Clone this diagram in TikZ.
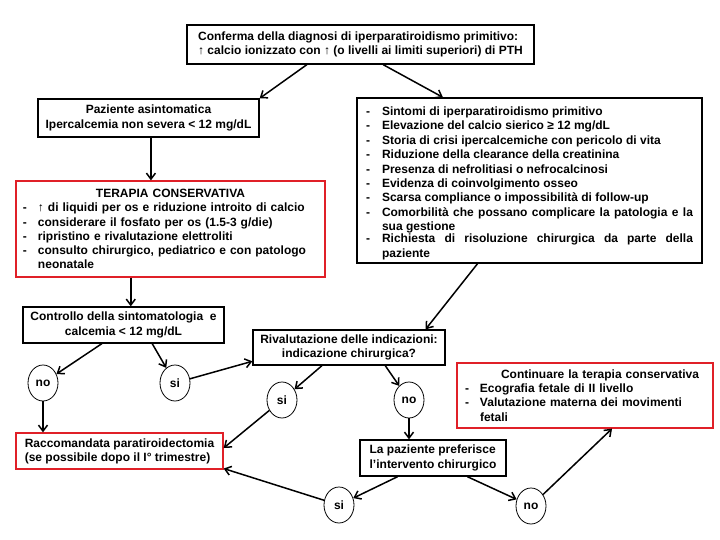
\documentclass[tikz,border=0pt]{standalone}
\usepackage{fontspec}
\setmainfont{Liberation Sans}
\usetikzlibrary{shapes.geometric,arrows.meta,calc}
\definecolor{boxred}{RGB}{224,32,40}
\hyphenpenalty=10000
\exhyphenpenalty=10000
\emergencystretch=20pt
% dash item with hanging text: #1 dash width, #2 text width, #3 text
\newcommand\litem[3]{\par\noindent\makebox[#1][l]{-}\parbox[t]{#2}{#3}\par}
\newcommand\ritem[3]{\litem{#1}{#2}{\raggedright #3}}
\begin{document}
\begin{tikzpicture}[x=1pt,y=-1pt,
  txt/.style={font=\bfseries\fontsize{12}{14.2}\selectfont},
  bx/.style={txt, draw, line width=1.3pt, inner ysep=0pt, inner xsep=4pt},
  rbx/.style={bx, draw=boxred},
  dec/.style={txt, draw, ellipse, line width=0.8pt, minimum width=30pt, minimum height=36pt, inner sep=0pt},
  arr/.style={line width=1.5pt, -{Straight Barb[length=6pt,width=9pt]}}]
\fill[white] (0,0) rectangle (720,540);
\useasboundingbox (0,0) rectangle (720,540);

% boxes
\node[bx, align=left, minimum width=347pt, minimum height=39pt] (top) at (360.5,44.5)
  {Conferma della diagnosi di iperparatiroidismo primitivo:\\{\mdseries ↑} calcio ionizzato con {\mdseries ↑} (o livelli ai limiti superiori) di PTH};
\node[bx, align=center, minimum width=221pt, minimum height=38pt] (pz) at (148.5,118)
  {Paziente asintomatica\\Ipercalcemia non severa < 12 mg/dL};
\node[rbx, align=left, text width=295pt, inner xsep=7pt, minimum height=96pt] (ter) at (170.5,229)
  {{\centering TERAPIA CONSERVATIVA\par}%
   \ritem{15pt}{280pt}{{\mdseries ↑} di liquidi per os e riduzione introito di calcio}%
   \ritem{15pt}{280pt}{considerare il fosfato per os (1.5-3 g/die)}%
   \ritem{15pt}{280pt}{ripristino e rivalutazione elettroliti}%
   \ritem{15pt}{280pt}{consulto chirurgico, pediatrico e con patologo neonatale}};
\node[bx, align=justify, text width=327pt, inner xsep=9pt, minimum height=165pt,
      font=\bfseries\fontsize{12}{14.4}\selectfont] (rb) at (529.5,180.5)
  {\litem{16pt}{311pt}{Sintomi di iperparatiroidismo primitivo}%
   \litem{16pt}{311pt}{Elevazione del calcio sierico ≥ 12 mg/dL}%
   \litem{16pt}{311pt}{Storia di crisi ipercalcemiche con pericolo di vita}%
   \litem{16pt}{311pt}{Riduzione della clearance della creatinina}%
   \litem{16pt}{311pt}{Presenza di nefrolitiasi o nefrocalcinosi}%
   \litem{16pt}{311pt}{Evidenza di coinvolgimento osseo}%
   \litem{16pt}{311pt}{Scarsa compliance o impossibilità di follow-up}%
   \litem{16pt}{311pt}{Comorbilità che possano complicare la patologia e la sua gestione}%
   \litem{16pt}{311pt}{Richiesta di risoluzione chirurgica da parte della paziente}};
\node[bx, align=center, minimum width=201pt, minimum height=36pt] (ctrl) at (123.5,325)
  {Controllo della sintomatologia \ e\\calcemia < 12 mg/dL};
\node[bx, align=center, minimum width=192pt, minimum height=35pt] (riv) at (349,347.5)
  {Rivalutazione delle indicazioni:\\indicazione chirurgica?};
\node[rbx, align=left, text width=240pt, inner xsep=8pt, minimum height=65pt] (cont) at (585,395.5)
  {\noindent\hspace*{36pt}Continuare la terapia conservativa\par
   \ritem{15pt}{225pt}{Ecografia fetale di II livello}%
   \ritem{15pt}{225pt}{Valutazione materna dei movimenti fetali}};
\node[rbx, align=left, minimum width=207pt, minimum height=36pt] (racc) at (119.5,451)
  {Raccomandata paratiroidectomia\\(se possibile dopo il I° trimestre)};
\node[bx, align=left, minimum width=146pt, minimum height=36pt] (lp) at (433,458)
  {La paziente preferisce\\l’intervento chirurgico};

% decisions
\node[dec] (no1) at (43,383) {no};
\node[dec] (si1) at (175,383) {si};
\node[dec] (si2) at (282,400) {si};
\node[dec] (no2) at (409,400) {no};
\node[dec] (si3) at (339,505) {si};
\node[dec] (no3) at (531,506) {no};

% connectors
\draw[arr] ($(top.south west)!0.346!(top.south east)$) -- (pz.north east);
\draw[arr] ($(top.south west)!0.565!(top.south east)$) -- ($(rb.north west)!0.25!(rb.north east)$);
\coordinate (pb) at ($(pz.south west)!0.511!(pz.south east)$);
\draw[arr] (pb) -- (pb |- ter.north);
\coordinate (tb) at ($(ter.south west)!0.372!(ter.south east)$);
\draw[arr] (tb) -- (tb |- ctrl.north);
\draw[arr] ($(ctrl.south west)!0.393!(ctrl.south east)$) -- (no1);
\draw[arr] ($(ctrl.south west)!0.642!(ctrl.south east)$) -- (si1);
\draw[arr] (si1) -- ($(riv.north west)!0.88!(riv.south west)$);
\draw[arr] (no1.south) -- (no1.south |- racc.north);
\draw[arr] ($(rb.south west)!0.35!(rb.south east)$) -- ($(riv.north west)!0.896!(riv.north east)$);
\draw[arr] ($(riv.south west)!0.36!(riv.south east)$) -- (si2);
\draw[arr] ($(riv.south west)!0.6875!(riv.south east)$) -- (no2);
\draw[arr] (si2) -- ($(racc.north east)!0.42!(racc.south east)$);
\draw[arr] (no2.south) -- (no2.south |- lp.north);
\draw[arr] ($(lp.south west)!0.26!(lp.south east)$) -- (si3);
\draw[arr] ($(lp.south west)!0.733!(lp.south east)$) -- (no3);
\draw[arr] (si3) -- ($(racc.north east)!0.97!(racc.south east)$);
\draw[arr] (no3) -- ($(cont.south west)!0.605!(cont.south east)$);
\end{tikzpicture}
\end{document}
